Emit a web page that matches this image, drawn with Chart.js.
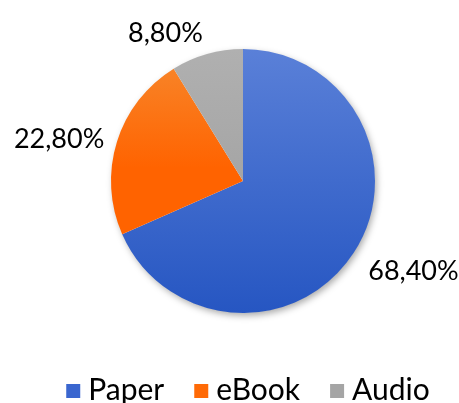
<!DOCTYPE html>
<html>
<head>
<meta charset="utf-8">
<script src="https://cdn.jsdelivr.net/npm/chart.js@4"></script>
<style>
html,body{margin:0;padding:0;background:#fff;}
#wrap{width:459px;height:403px;position:relative;}
</style>
</head>
<body>
<div id="wrap"><canvas id="c"></canvas></div>
<script>
const categories = ['Paper', 'eBook', 'Audio'];
const shares = [68.4, 22.8, 8.8];
const valueLabels = ['68,40%', '22,80%', '8,80%'];
const solidColors = ['#3A66CF', '#FF6A06', '#A5A5A5'];
const topColors = ['#5A80D8', '#F7892E', '#B0B0B0'];
const bottomColors = ['#2656C2', '#FF6300', '#9A9A9A'];

const FONT = 'Lato, "DejaVu Sans", sans-serif';

function gradientFill(ctx) {
  const chart = ctx.chart;
  const area = chart.chartArea;
  const i = ctx.dataIndex;
  if (!area) return solidColors[i];
  const cy = (area.top + area.bottom) / 2;
  const r = Math.min(area.width, area.height) / 2;
  const g = chart.ctx.createLinearGradient(0, cy - r, 0, cy + r);
  g.addColorStop(0, topColors[i]);
  if (i === 1) g.addColorStop(0.45, bottomColors[i]);
  g.addColorStop(1, bottomColors[i]);
  return g;
}

const shadowPlugin = {
  id: 'pieShadow',
  beforeDatasetsDraw(chart) {
    const arc = chart.getDatasetMeta(0).data[0];
    if (!arc) return;
    const c = chart.ctx;
    c.save();
    c.shadowColor = 'rgba(0,0,0,0.35)';
    c.shadowBlur = 7;
    c.shadowOffsetX = 2;
    c.shadowOffsetY = 3;
    c.fillStyle = '#ffffff';
    c.beginPath();
    c.arc(arc.x, arc.y, arc.outerRadius - 0.5, 0, Math.PI * 2);
    c.fill();
    c.restore();
  }
};

const labelPlugin = {
  id: 'outerLabels',
  afterDatasetsDraw(chart) {
    const c = chart.ctx;
    const meta = chart.getDatasetMeta(0);
    c.save();
    c.font = '27px ' + FONT;
    c.fillStyle = '#000000';
    meta.data.forEach((arc, i) => {
      const mid = (arc.startAngle + arc.endAngle) / 2;
      const d = arc.outerRadius + 8;
      const cos = Math.cos(mid), sin = Math.sin(mid);
      let x = arc.x + cos * d;
      let y = arc.y + sin * d;
      if (cos >= 0) { c.textAlign = 'left'; x += 8; } else { c.textAlign = 'right'; x -= 5; }
      if (sin < -0.5) { c.textBaseline = 'bottom'; x += 3; }
      else if (sin > 0.5) c.textBaseline = 'top';
      else c.textBaseline = 'middle';
      c.fillText(valueLabels[i], x, y);
    });
    c.restore();
  }
};

const legendPlugin = {
  id: 'bottomLegend',
  afterDraw(chart) {
    const c = chart.ctx;
    c.save();
    c.font = '30px ' + FONT;
    c.textBaseline = 'middle';
    c.textAlign = 'left';
    const box = 14, gapText = 8, gapItem = 30;
    const widths = categories.map(t => c.measureText(t).width);
    let total = 0;
    widths.forEach((w, i) => { total += box + gapText + w + (i < widths.length - 1 ? gapItem : 0); });
    const centerX = 248, y = 390;
    let x = centerX - total / 2;
    categories.forEach((t, i) => {
      c.fillStyle = solidColors[i];
      c.fillRect(x, y - box / 2 + 1, box, box);
      c.fillStyle = '#000000';
      c.fillText(t, x + box + gapText, y);
      x += box + gapText + widths[i] + gapItem;
    });
    c.restore();
  }
};

new Chart(document.getElementById('c'), {
  type: 'pie',
  data: {
    labels: categories,
    datasets: [{
      data: shares,
      backgroundColor: gradientFill,
      borderWidth: 0,
      hoverOffset: 0
    }]
  },
  options: {
    responsive: true,
    maintainAspectRatio: false,
    animation: false,
    rotation: 0,
    layout: { padding: { left: 111, right: 84, top: 49, bottom: 90 } },
    plugins: {
      tooltip: { enabled: false },
      legend: { display: false }
    }
  },
  plugins: [shadowPlugin, labelPlugin, legendPlugin]
});
</script>
</body>
</html>
